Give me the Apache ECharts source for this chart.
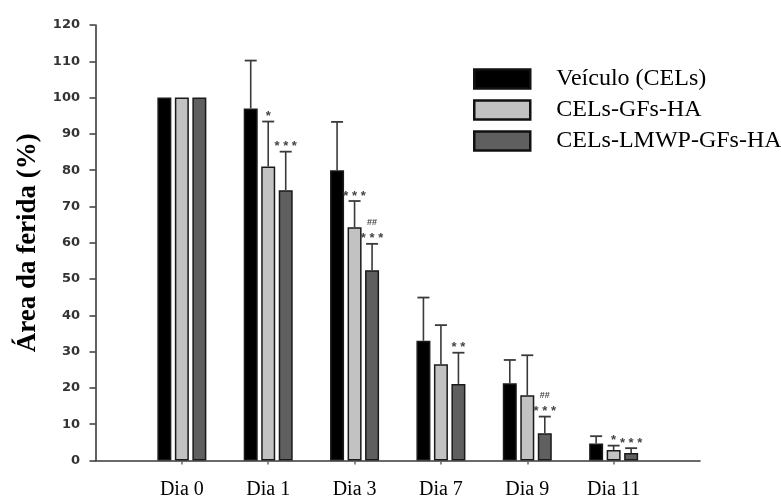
<!DOCTYPE html>
<html>
<head>
<meta charset="utf-8">
<script src="https://cdn.jsdelivr.net/npm/echarts@6/dist/echarts.min.js"></script>
<style>
  html, body { margin: 0; padding: 0; background: #fff; }
  #chart { width: 781px; height: 503px; }
</style>
</head>
<body>
<div id="chart"></div>
<script>
// Wound area (%) over time for the three treatment groups
const days = ['Dia 0', 'Dia 1', 'Dia 3', 'Dia 7', 'Dia 9', 'Dia 11'];
const seriesNames = ['Veículo (CELs)', 'CELs-GFs-HA', 'CELs-LMWP-GFs-HA'];

const vehicleMean = [100, 97.0, 80.0, 33.0, 21.3, 4.7];
const vehicleErr  = [0, 13.2, 13.3, 11.9, 6.4, 2.0];
const gfsMean     = [100, 81.0, 64.3, 26.5, 18.0, 2.9];
const gfsErr      = [0, 12.4, 7.2, 10.8, 11.0, 1.2];
const lmwpMean    = [100, 74.5, 52.4, 21.1, 7.5, 2.1];
const lmwpErr     = [0, 10.6, 7.3, 8.6, 4.6, 1.3];

// significance marks printed above the error bars
const vehicleMarks = ['', '', '', '', '', ''];
const gfsMarks     = ['', '*', '***', '', '', '*'];
const lmwpMarks    = ['', '***', '##\n***', '**', '##\n***', '***'];

const yMin = 0, yMax = 120, yStep = 10;

// bar geometry
const BAR_W = 14;
const BAR_PITCH = 17.5;          // centre-to-centre distance of bars in a group
const fills = ['#000000', '#c2c2c2', '#5f5f5f'];

// category axis padded with an empty slot on each side
const cats = [''].concat(days, ['']);
const pad = arr => ['-'].concat(arr, ['-']);

function errorSeries(means, errs, marks, slot) {
  const offset = (slot - 1) * BAR_PITCH;
  return {
    type: 'custom',
    z: 5,
    silent: true,
    data: means.map((m, i) => [i + 1, m, errs[i]]),
    renderItem: function (params, api) {
      const idx = api.value(0), m = api.value(1), e = api.value(2);
      const base = api.coord([idx, m]);
      const top = api.coord([idx, m + e]);
      const cx = base[0] + offset;
      const children = [];
      if (e > 0) {
        children.push({ type: 'line', shape: { x1: cx, y1: base[1], x2: cx, y2: top[1] },
          style: { stroke: '#3a3a3a', lineWidth: 1.6 } });
        children.push({ type: 'line', shape: { x1: cx - 6, y1: top[1], x2: cx + 6, y2: top[1] },
          style: { stroke: '#3a3a3a', lineWidth: 1.8 } });
      }
      const mark = marks[params.dataIndex];
      if (mark) {
        const lines = mark.split('\n').reverse();
        lines.forEach((ln, k) => {
          const isStar = ln.indexOf('*') >= 0;
          children.push({
            type: 'text',
            style: {
              text: isStar ? ln.split('').join(' ') : ln,
              x: cx,
              y: top[1] - (isStar ? 5 : 8.5) - k * 12.5,
              align: 'center',
              verticalAlign: 'middle',
              fill: '#444',
              font: isStar ? 'bold 13px "Liberation Sans", Arial, sans-serif'
                           : 'bold 9px "Liberation Sans", Arial, sans-serif'
            }
          });
        });
      }
      return { type: 'group', children: children };
    }
  };
}

function barSeries(name, means, slot) {
  return {
    name: name,
    type: 'bar',
    barWidth: BAR_W,
    barGap: ((BAR_PITCH - BAR_W) / BAR_W * 100) + '%',
    data: pad(means),
    itemStyle: { color: fills[slot], borderColor: '#1a1a1a', borderWidth: 1.5 },
    z: 2
  };
}

const chart = echarts.init(document.getElementById('chart'), null, { renderer: 'canvas' });

chart.setOption({
  animation: false,
  backgroundColor: '#ffffff',
  grid: {
    left: 95.5, right: 81, top: 25, bottom: 42.5,
    containLabel: false, outerBoundsMode: 'none'
  },
  legend: {
    orient: 'vertical',
    left: 473, top: 67,
    padding: 0,
    itemWidth: 56, itemHeight: 19,
    itemGap: 7,
    icon: 'rect',
    data: seriesNames,
    itemStyle: { borderColor: '#111', borderWidth: 2.5 },
    textStyle: {
      fontFamily: '"Liberation Serif", "Times New Roman", serif',
      fontSize: 24, color: '#000', lineHeight: 24,
      padding: [0, 0, 0, 21]
    },
    selectedMode: false
  },
  xAxis: {
    type: 'category',
    data: cats,
    boundaryGap: false,
    axisLine: { show: true, lineStyle: { color: '#3a3a3a', width: 1.6 } },
    axisTick: {
      show: true, length: 4, inside: false,
      interval: (i) => i > 0 && i < cats.length - 1,
      lineStyle: { color: '#666', width: 1.5 }
    },
    axisLabel: {
      interval: 0,
      margin: 19,
      fontFamily: '"Liberation Serif", "Times New Roman", serif',
      fontSize: 20, color: '#000'
    },
    splitLine: { show: false }
  },
  yAxis: {
    type: 'value',
    min: yMin, max: yMax, interval: yStep,
    name: 'Área da ferida (%)',
    nameLocation: 'middle',
    nameRotate: 90,
    nameGap: 54,
    nameTextStyle: {
      fontFamily: '"Liberation Serif", "Times New Roman", serif',
      fontSize: 27, fontWeight: 'bold', color: '#000'
    },
    axisLine: { show: true, lineStyle: { color: '#3a3a3a', width: 1.6 } },
    axisTick: { show: true, length: 6, lineStyle: { color: '#3a3a3a', width: 1.5 } },
    axisLabel: {
      margin: 15.5,
      fontFamily: '"DejaVu Sans", sans-serif',
      fontSize: 13, fontWeight: 'bold', color: '#333'
    },
    splitLine: { show: false }
  },
  series: [
    barSeries(seriesNames[0], vehicleMean, 0),
    barSeries(seriesNames[1], gfsMean, 1),
    barSeries(seriesNames[2], lmwpMean, 2),
    errorSeries(vehicleMean, vehicleErr, vehicleMarks, 0),
    errorSeries(gfsMean, gfsErr, gfsMarks, 1),
    errorSeries(lmwpMean, lmwpErr, lmwpMarks, 2)
  ]
});
</script>
</body>
</html>
